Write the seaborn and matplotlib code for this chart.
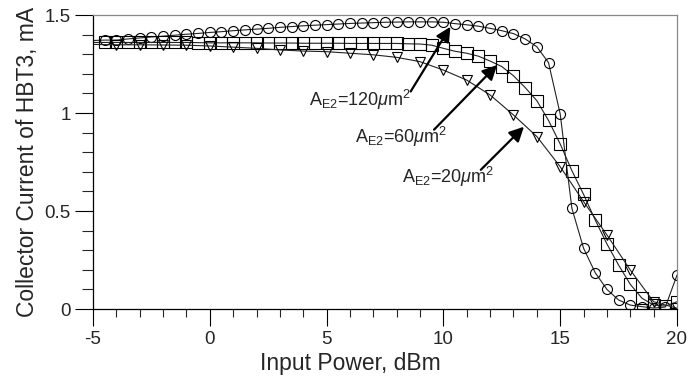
import numpy as np
import matplotlib
matplotlib.use("Agg")
import matplotlib.pyplot as plt
import seaborn as sns
from matplotlib.ticker import MultipleLocator

# input power grid (dBm)
power_half = np.arange(-5, 20.5, 0.5)
power_int = np.arange(-5, 21, 1)

# collector current, mA
i_120 = [1.370, 1.372, 1.372, 1.378, 1.383, 1.388, 1.392, 1.397, 1.402, 1.406,
         1.411, 1.415, 1.420, 1.424, 1.428, 1.432, 1.437, 1.441, 1.445, 1.448,
         1.451, 1.454, 1.457, 1.459, 1.461, 1.463, 1.464, 1.465, 1.465, 1.465,
         1.463, 1.456, 1.450, 1.443, 1.432, 1.420, 1.405, 1.378, 1.338, 1.257,
         0.995, 0.514, 0.310, 0.185, 0.100, 0.046, 0.020, 0.012, 0.005, 0.010,
         0.173]
i_60 = [1.360, 1.360, 1.360, 1.360, 1.360, 1.360, 1.360, 1.360, 1.360, 1.359,
        1.358, 1.358, 1.358, 1.358, 1.358, 1.357, 1.357, 1.357, 1.356, 1.356,
        1.356, 1.356, 1.355, 1.355, 1.355, 1.355, 1.355, 1.353, 1.352, 1.346,
        1.330, 1.315, 1.305, 1.290, 1.265, 1.237, 1.190, 1.130, 1.063, 0.962,
        0.842, 0.706, 0.585, 0.454, 0.332, 0.224, 0.126, 0.055, 0.020, 0.015,
        0.037]
i_20 = [1.350, 1.348, 1.348, 1.347, 1.346, 1.342, 1.336, 1.330, 1.322, 1.316,
        1.313, 1.305, 1.297, 1.284, 1.262, 1.219, 1.168, 1.092, 0.990, 0.880,
        0.726, 0.548, 0.378, 0.199, 0.037, 0.004]

labels = [r"A$_{\rm E2}$=120$\mu$m$^{2}$",
          r"A$_{\rm E2}$=60$\mu$m$^{2}$",
          r"A$_{\rm E2}$=20$\mu$m$^{2}$"]
label_xy = [(4.25, 1.066), (6.22, 0.878), (8.23, 0.673)]
arrow_tail = [(8.6, 1.11), (9.6, 0.915), (11.6, 0.71)]
arrow_tip = [(10.3, 1.44), (12.3, 1.245), (13.45, 0.93)]

sns.set_style("ticks")
plt.rcParams["font.family"] = ["Liberation Sans", "DejaVu Sans"]
plt.rcParams["mathtext.fontset"] = "custom"
plt.rcParams["mathtext.rm"] = "Liberation Sans"
plt.rcParams["mathtext.it"] = "Liberation Sans:italic"

fig = plt.figure(figsize=(6.96, 3.83), dpi=100)
ax = fig.add_axes([0.1336, 0.1932, 0.9727 - 0.1336, 0.9608 - 0.1932])

common = dict(color="#222222", lw=0.8, markeredgecolor="black",
              markerfacecolor="none", markeredgewidth=0.8, ax=ax, legend=False)
sns.lineplot(x=power_half, y=i_120, marker="o", markersize=7.2,
             markevery=slice(1, None), **common)
sns.lineplot(x=power_half, y=i_60, marker="s", markersize=8,
             markevery=slice(1, None), **common)
sns.lineplot(x=power_int, y=i_20, marker="v", markersize=7.5,
             markevery=slice(1, None), **common)

for txt, lxy, tail, tip in zip(labels, label_xy, arrow_tail, arrow_tip):
    ax.text(lxy[0], lxy[1], txt, fontsize=13, va="center", ha="left")
    ax.annotate("", xy=tip, xytext=tail,
                arrowprops=dict(arrowstyle="-|>", color="black", lw=1.6,
                                mutation_scale=22, shrinkA=0, shrinkB=0))

ax.set_xlim(-5, 20)
ax.set_ylim(0, 1.5)
ax.xaxis.set_major_locator(MultipleLocator(5))
ax.xaxis.set_minor_locator(MultipleLocator(1))
ax.yaxis.set_major_locator(MultipleLocator(0.5))
ax.yaxis.set_minor_locator(MultipleLocator(0.1))
ax.set_xticks([-5, 0, 5, 10, 15, 20])
ax.set_xticklabels(["-5", "0", "5", "10", "15", "20"])
ax.set_yticks([0, 0.5, 1, 1.5])
ax.set_yticklabels(["0", "0.5", "1", "1.5"])
ax.tick_params(axis="both", which="major", labelsize=13.5, width=0.8,
               color="black", direction="out")
ax.tick_params(axis="x", which="major", length=12.5, pad=3)
ax.tick_params(axis="x", which="minor", length=5.5, width=0.8, direction="out")
ax.tick_params(axis="y", which="major", length=13, pad=3)
ax.tick_params(axis="y", which="minor", length=8, width=0.8, direction="out")

for side in ["left", "bottom"]:
    ax.spines[side].set_color("black")
    ax.spines[side].set_linewidth(0.9)
for side in ["top", "right"]:
    ax.spines[side].set_color("#888888")
    ax.spines[side].set_linewidth(0.9)

ax.set_xlabel("Input Power, dBm", fontsize=16.5)
ax.set_ylabel("Collector Current of HBT3, mA", fontsize=16.5)
ax.xaxis.set_label_coords(0.44, -0.145)
ax.yaxis.set_label_coords(-0.092, 0.5)

fig.savefig("out.png", dpi=100)
